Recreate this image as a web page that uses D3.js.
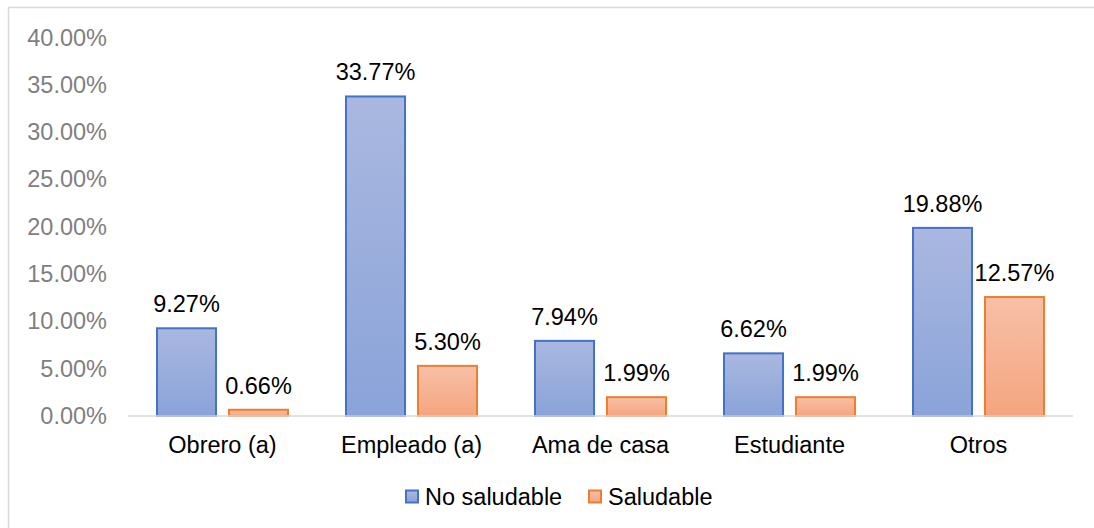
<!DOCTYPE html>
<html>
<head>
<meta charset="utf-8">
<script src="https://cdn.jsdelivr.net/npm/d3@7"></script>
<style>
  body { margin: 0; background: #fff; }
  svg { display: block; font-family: "Liberation Sans", Arial, sans-serif; }
</style>
</head>
<body>
<div id="chart"></div>
<script>
// Chart data
var categories = ["Obrero (a)", "Empleado (a)", "Ama de casa", "Estudiante", "Otros"];
var seriesNames = ["No saludable", "Saludable"];
var noSaludable = [9.27, 33.77, 7.94, 6.62, 19.88];
var saludable = [0.66, 5.30, 1.99, 1.99, 12.57];
var yTicks = [0, 5, 10, 15, 20, 25, 30, 35, 40];

var svgWidth = 1094;
var svgHeight = 528;

var margin = { top: 37.5, right: 21, bottom: 112, left: 128 };
var width = svgWidth - margin.left - margin.right;
var height = svgHeight - margin.top - margin.bottom;

var svg = d3.select("#chart")
    .append("svg")
    .attr("width", svgWidth)
    .attr("height", svgHeight);

// gradients for the bars
var defs = svg.append("defs");
var fills = [
    { id: "gradBlue", top: "#aab8e0", bottom: "#8aa3d9", stroke: "#4472c4" },
    { id: "gradOrange", top: "#f7c0a7", bottom: "#f5a57f", stroke: "#ed7d31" }
];
fills.forEach(function(f) {
    var g = defs.append("linearGradient")
        .attr("id", f.id)
        .attr("x1", 0).attr("y1", 0)
        .attr("x2", 0).attr("y2", 1);
    g.append("stop").attr("offset", "0%").attr("stop-color", f.top);
    g.append("stop").attr("offset", "100%").attr("stop-color", f.bottom);
});

// outer chart border
svg.append("rect")
    .attr("x", 8.5)
    .attr("y", 7.5)
    .attr("width", svgWidth)
    .attr("height", svgHeight)
    .attr("fill", "none")
    .attr("stroke", "#d9d9d9")
    .attr("stroke-width", 1.5);

var chartGroup = svg.append("g")
    .attr("transform", `translate(${margin.left}, ${margin.top})`);

// scales
var x0 = d3.scaleBand()
    .domain(categories)
    .range([0, width])
    .paddingInner(0.307)
    .paddingOuter(0.1535);

var x1 = d3.scaleBand()
    .domain(seriesNames)
    .range([0, x0.bandwidth()])
    .paddingInner(0.18);

var y = d3.scaleLinear()
    .domain([0, 40])
    .range([height, 0]);

// y axis labels
var leftAxis = d3.axisLeft(y)
    .tickValues(yTicks)
    .tickSize(0)
    .tickPadding(21)
    .tickFormat(d => d.toFixed(2) + "%");

var yAxis = chartGroup.append("g").call(leftAxis);
yAxis.select(".domain").remove();
yAxis.selectAll("text")
    .attr("fill", "#7f7f7f")
    .attr("font-size", 23.5)
    .attr("font-family", "Liberation Sans, Arial, sans-serif");

// bars
var data = categories.map(function(c, i) {
    return { cat: c, values: [
        { series: seriesNames[0], value: noSaludable[i], fill: fills[0] },
        { series: seriesNames[1], value: saludable[i], fill: fills[1] }
    ] };
});

var groups = chartGroup.selectAll(".cat")
    .data(data)
    .enter()
    .append("g")
    .attr("class", "cat")
    .attr("transform", d => `translate(${x0(d.cat)}, 0)`);

groups.selectAll("rect")
    .data(d => d.values)
    .enter()
    .append("rect")
    .attr("x", d => x1(d.series))
    .attr("y", d => y(d.value))
    .attr("width", x1.bandwidth())
    .attr("height", d => height - y(d.value))
    .attr("fill", d => `url(#${d.fill.id})`)
    .attr("stroke", d => d.fill.stroke)
    .attr("stroke-width", 2);

// data labels
groups.selectAll("text")
    .data(d => d.values)
    .enter()
    .append("text")
    .attr("x", d => x1(d.series) + x1.bandwidth() / 2)
    .attr("y", d => y(d.value) - 16)
    .attr("text-anchor", "middle")
    .attr("font-size", 23.5)
    .attr("fill", "#000")
    .text(d => d.value.toFixed(2) + "%");

// x axis line
chartGroup.append("line")
    .attr("x1", 0)
    .attr("x2", width)
    .attr("y1", height)
    .attr("y2", height)
    .attr("stroke", "#d9d9d9")
    .attr("stroke-width", 1.5);

// category labels
chartGroup.selectAll(".catLabel")
    .data(categories)
    .enter()
    .append("text")
    .attr("class", "catLabel")
    .attr("x", d => x0(d) + x0.bandwidth() / 2)
    .attr("y", height + 37)
    .attr("text-anchor", "middle")
    .attr("font-size", 23.5)
    .attr("fill", "#000")
    .text(d => d);

// legend
var legendItems = [
    { name: seriesNames[0], x: 406, fill: fills[0] },
    { name: seriesNames[1], x: 589, fill: fills[1] }
];
var legend = svg.append("g");
legendItems.forEach(function(item) {
    legend.append("rect")
        .attr("x", item.x)
        .attr("y", 490.5)
        .attr("width", 12)
        .attr("height", 12)
        .attr("fill", `url(#${item.fill.id})`)
        .attr("stroke", item.fill.stroke)
        .attr("stroke-width", 2);
    legend.append("text")
        .attr("x", item.x + 19)
        .attr("y", 505)
        .attr("font-size", 23.5)
        .attr("fill", "#000")
        .text(item.name);
});
</script>
</body>
</html>
